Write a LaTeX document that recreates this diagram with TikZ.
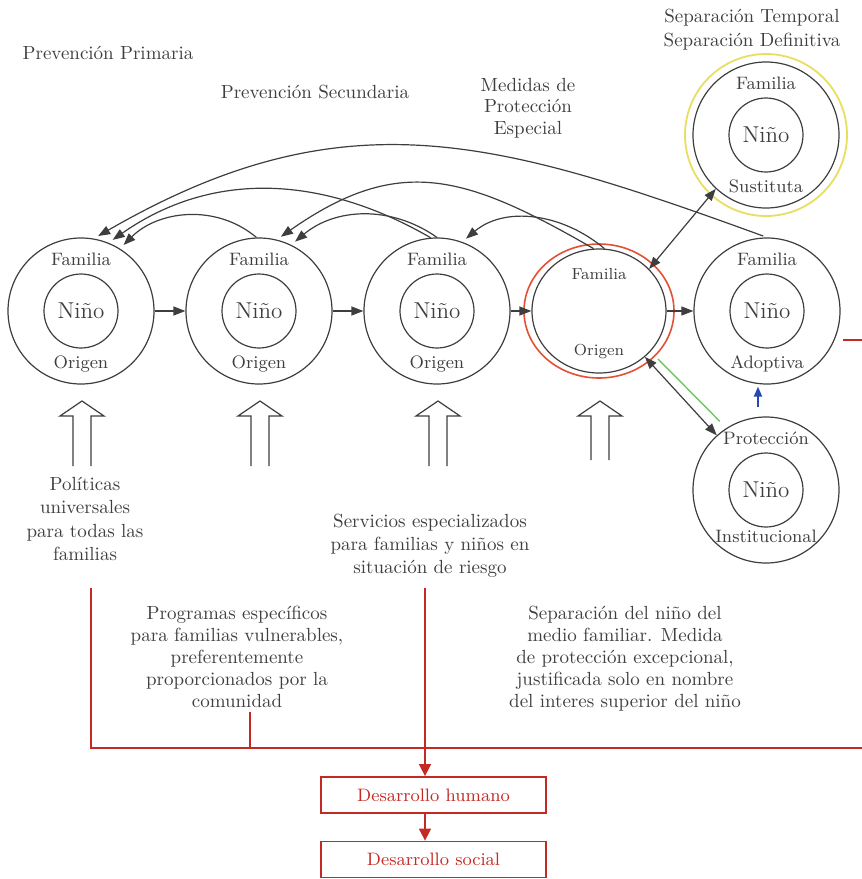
\documentclass[tikz,border=0pt]{standalone}
\usepackage{tikz}
\usetikzlibrary{arrows.meta}
\usetikzlibrary{calc}
\usetikzlibrary{positioning}
\usetikzlibrary{shapes.geometric}
\definecolor{ink}{RGB}{62,62,62}
\definecolor{rojo}{RGB}{196,42,36}
\definecolor{naranja}{RGB}{228,80,52}
\definecolor{amarillo}{RGB}{232,222,96}
\definecolor{verde}{RGB}{112,196,100}
\definecolor{azul}{RGB}{40,72,176}
\tikzset{>={Triangle[length=6pt,width=4.5pt]}}
\tikzset{
  outer/.style={circle,draw=ink,line width=0.6pt,minimum size=73pt,inner sep=0pt},
  inner/.style={circle,draw=ink,line width=0.6pt,minimum size=37pt,inner sep=0pt,font=\fontsize{11.5}{12}\selectfont},
  lbl/.style={inner sep=0pt,text height=1.6ex,text depth=.4ex,font=\fontsize{9}{10}\selectfont},
  txt/.style={align=center,inner sep=0pt,font=\fontsize{9.5}{11.5}\selectfont},
  link/.style={->,line width=0.6pt},
  redline/.style={draw=rojo,line width=0.8pt},
  redtip/.style={->,>={Triangle[length=6pt,width=6pt]}},
  redbox/.style={draw=rojo,line width=0.9pt,text=rojo,minimum width=112.5pt,minimum height=18pt,inner sep=0pt,font=\fontsize{9}{10}\selectfont}
}

\begin{document}
\begin{tikzpicture}[x=0.5pt,y=0.5pt,color=ink]
\useasboundingbox (0,0) rectangle (862,-879);

% familia de origen
\foreach \i/\x in {1/81,2/259,3/437} {
  \node[outer] (c\i) at (\x,-311) {};
  \node[inner] (n\i) at (c\i) {Niño};
  \node[lbl,above=1.8pt of n\i] (f\i) {Familia};
  \node[lbl,below=3pt of n\i] (o\i) {Origen};
}

% separacion
\node[ellipse,draw=naranja,line width=0.8pt,minimum width=75pt,minimum height=67pt] (r4) at (599,-311) {};
\node[ellipse,draw=ink,line width=0.6pt,minimum width=67pt,minimum height=62pt] (c4) at (599,-311) {};
\node[lbl,font=\fontsize{8}{9}\selectfont,above=14pt of c4.center] (f4) {Familia};
\node[lbl,font=\fontsize{8}{9}\selectfont,below=15pt of c4.center] (o4) {Origen};

\node[outer] (c5) at (767,-311) {};
\node[inner] (n5) at (c5) {Niño};
\node[lbl,above=1.8pt of n5] (f5) {Familia};
\node[lbl,below=3pt of n5] (o5) {Adoptiva};

\node[outer] (c6) at (766,-135) {};
\node[circle,draw=amarillo,line width=0.9pt,minimum size=81pt] (y6) at (c6) {};
\node[inner] (n6) at (c6) {Niño};
\node[lbl,above=2pt of n6] (f6) {Familia};
\node[lbl,below=3pt of n6] (o6) {Sustituta};

\node[outer] (c7) at (766,-490) {};
\node[inner] (n7) at (c7) {Niño};
\node[lbl,above=1.8pt of n7] (f7) {Protección};
\node[lbl,below=0.5pt of n7] (o7) {Institucional};

% titulos
\node[txt] (pp) at (108,-53) {Prevención Primaria};
\node[txt] (ps) at (315,-92) {Prevención Secundaria};
\node[txt,font=\fontsize{9.5}{10.8}\selectfont] (mp) at (528,-108) {Medidas de\\Protección\\Especial};
\node[txt,font=\fontsize{9.5}{12}\selectfont] (st) at (752,-30) {Separación Temporal\\Separación Definitiva};
\node[txt,font=\fontsize{9.5}{11.8}\selectfont] (pu) at (85,-519) {Políticas\\universales\\para todas las\\familias};
\node[txt] (se) at (430,-546) {Servicios especializados\\para familias y niños en\\situación de riesgo};
\node[txt,font=\fontsize{9.5}{11}\selectfont] (pe) at (237,-657) {Programas específicos\\para familias vulnerables,\\preferentemente\\proporcionados por la\\comunidad};
\node[txt,font=\fontsize{9.5}{11}\selectfont] (sn) at (625,-659) {Separación del niño del\\medio familiar. Medida\\de protección excepcional,\\justificada solo en nombre\\del interes superior del niño};

% flechas
\path[link]
  (c1) edge (c2)
  (c2) edge (c3)
  (c3) edge (c4)
  (c4) edge (c5);
\path[link,shorten >=2.5pt]
  (c5.north) edge[shorten <=2pt,out=160,in=30,looseness=1.1] (c1.80)
  (c3.95) edge[out=150,in=35] (c1.68)
  (c2.92) edge[out=140,in=45] (c1.58)
  (c4.95) edge[out=150,in=35,looseness=1.2] (c2.76)
  (c3.90) edge[out=145,in=40] (c2.64)
  (c4.85) edge[out=140,in=40] (c3.70);
\draw[link,<->] (c4.40) -- (c6.227);
\draw[link,<->] (c4.-45) -- (c7.132);
\draw[verde,line width=0.7pt] ([shift={(13,-2)}]c4.-45) -- ([shift={(3,14)}]c7.132);
\draw[->,azul,line width=1pt,>={Triangle[length=5pt,width=4pt]}] ([shift={(-8,9)}]c7.north) -- ([shift={(-9,-2)}]c5.south);

% flechas huecas
\foreach \x/\b in {82/466,260/466,438/466,600/460}
  \draw[line width=0.6pt] (\x-9,-\b) -- (\x-9,-416) -- (\x-22,-416) -- (\x,-401) -- (\x+22,-416) -- (\x+9,-416) -- (\x+9,-\b);

% desarrollo
\coordinate (l0) at (91,-588);
\coordinate (l1) at (91,-748);
\coordinate (r1) at (862,-748);
\coordinate (t0) at (250,-712);
\coordinate (m0) at (425,-588);
\coordinate (e0) at (843,-340);
\coordinate (e1) at (862,-340);
\node[redbox] (b1) at (433.5,-795) {Desarrollo humano};
\node[redbox] (b2) at (433.5,-859.5) {Desarrollo social};
\draw[redline] (l0) -- (l1) -- (r1);
\draw[redline] (t0) -- (t0 |- l1);
\draw[redline] (e0) -- (e1);
\draw[redline,redtip,rojo] (m0) -- (m0 |- b1.north);
\draw[redline,redtip,rojo] (b1.south -| m0) -- (b2.north -| m0);
\end{tikzpicture}
\end{document}
